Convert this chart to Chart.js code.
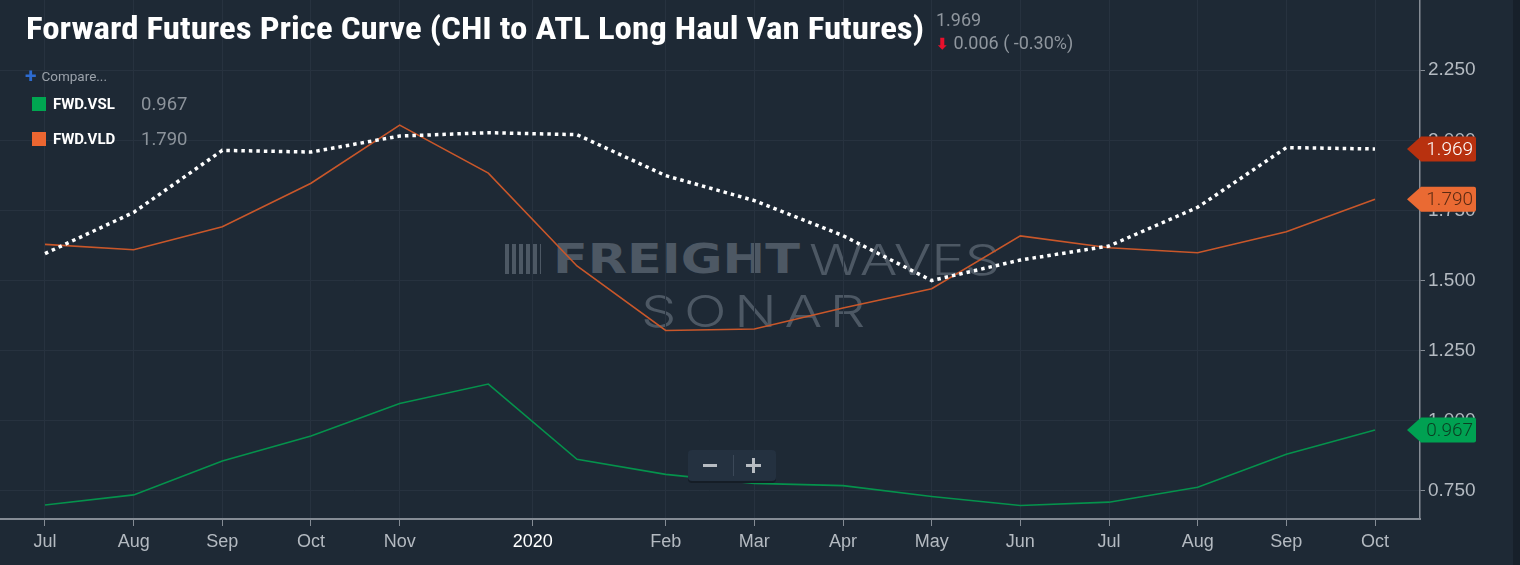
<!DOCTYPE html>
<html>
<head>
<meta charset="utf-8">
<script src="https://cdn.jsdelivr.net/npm/chart.js@4.4.1/dist/chart.umd.min.js"></script>
<style>
  html, body { margin: 0; padding: 0; background: #1e2935; overflow: hidden; }
  #wrap { position: relative; width: 1520px; height: 565px; font-family: Roboto, "Noto Sans", sans-serif; }
  #chart { position: absolute; left: 0; top: 0; z-index: 2; }
  .abs { position: absolute; white-space: nowrap; }
  #title { left: 26px; top: 10px; color: #fff; font: bold 31px "Liberation Sans Narrow", "Roboto Condensed", Roboto, sans-serif; transform-origin: 0 0; z-index: 3; }
  #price { left: 936px; top: 8px; color: #8f969e; font-size: 18px; line-height: 23px; z-index: 3; }
  #price .dn { color: #e8102c; font-weight: bold; font-size: 15px; }
  #cmp { left: 25px; top: 64px; font-size: 13.5px; color: #9aa1a9; z-index: 3; }
  #cmp b { color: #2d6bd0; font-size: 21px; vertical-align: -2px; margin-right: 5px; }
  .leg { left: 32px; z-index: 3; font-size: 15px; }
  .leg i { display: inline-block; width: 14px; height: 14px; vertical-align: -2px; margin-right: 7px; }
  .leg b { color: #fff; display: inline-block; width: 88px; }
  .leg span { color: #8c939b; font-size: 18.5px; vertical-align: -1px; }
  #wm { left: 505px; top: 236px; z-index: 1; color: #4d5864; }
  #wm .fr { font: 900 40px "DejaVu Sans", sans-serif; position: absolute; left: 48px; top: 0; transform-origin: 0 0; }
  #wm .wv { font: 300 42px Inter, "Open Sans", sans-serif; position: absolute; left: 304px; top: -2px; transform-origin: 0 0; }
  #wm .so { font: 300 44px Inter, "Open Sans", sans-serif; position: absolute; left: 136px; top: 48px; transform-origin: 0 0; letter-spacing: 6px; }
  #wm .ic { position: absolute; left: 0; top: 8px; width: 36px; height: 30px;
            background: repeating-linear-gradient(90deg, #4d5864 0 4px, transparent 4px 7px); }
  #zoombox { left: 688px; top: 450px; width: 88px; height: 31px; background: #243140; border-radius: 4px;
             box-shadow: 0 2px 0 #151d26; z-index: 3; }
  #zoombox .m { position: absolute; left: 15px; top: 14px; width: 14px; height: 3px; background: #b7bcc2; }
  #zoombox .d { position: absolute; left: 45px; top: 5px; width: 1px; height: 21px; background: #3b4858; }
  #zoombox .p1 { position: absolute; left: 58px; top: 14px; width: 15px; height: 3px; background: #b7bcc2; }
  #zoombox .p2 { position: absolute; left: 64px; top: 8px; width: 3px; height: 15px; background: #b7bcc2; }
  #strip { left: 1513px; top: 0; width: 7px; height: 565px; background: #17202a; z-index: 3; }
</style>
</head>
<body>
<div id="wrap">
  <div id="wm" class="abs"><span class="ic"></span><span class="fr">FREIGHT</span><span class="wv">WAVES</span><span class="so">SONAR</span></div>
  <canvas id="chart" width="1520" height="565"></canvas>
  <div id="title" class="abs">Forward Futures Price Curve (CHI to ATL Long Haul Van Futures)</div>
  <div id="price" class="abs">1.969<br><span class="dn">&#x2B07;</span> 0.006 ( -0.30%)</div>
  <div id="cmp" class="abs"><b>+</b>Compare...</div>
  <div class="abs leg" style="top:93px"><i style="background:#00a651"></i><b>FWD.VSL</b><span>0.967</span></div>
  <div class="abs leg" style="top:128px"><i style="background:#ec6631"></i><b>FWD.VLD</b><span>1.790</span></div>
  <div id="zoombox" class="abs"><span class="m"></span><span class="d"></span><span class="p1"></span><span class="p2"></span></div>
  <div id="strip" class="abs"></div>
</div>
<script>
// contract months, Jul 2019 .. Oct 2020
const months = ['Jul', 'Aug', 'Sep', 'Oct', 'Nov', 'Dec', 'Jan', 'Feb', 'Mar', 'Apr', 'May', 'Jun', 'Jul', 'Aug', 'Sep', 'Oct'];

// forward curve (dotted white)
const fwdCurve = [1.596, 1.743, 1.964, 1.958, 2.015, 2.027, 2.020, 1.874, 1.785, 1.660, 1.500, 1.573, 1.623, 1.761, 1.974, 1.969];
// FWD.VLD (orange)
const fwdVLD = [1.629, 1.610, 1.692, 1.847, 2.054, 1.883, 1.552, 1.322, 1.327, 1.402, 1.471, 1.659, 1.617, 1.599, 1.674, 1.790];
// FWD.VSL (green)
const fwdVSL = [0.700, 0.736, 0.857, 0.946, 1.062, 1.131, 0.863, 0.809, 0.777, 0.769, 0.730, 0.698, 0.710, 0.763, 0.881, 0.967];

// x axis ticks (month index) and their labels
const xTickPos = [0, 1, 2, 3, 4, 5.5, 7, 8, 9, 10, 11, 12, 13, 14, 15];
const xTickLabels = ['Jul', 'Aug', 'Sep', 'Oct', 'Nov', '2020', 'Feb', 'Mar', 'Apr', 'May', 'Jun', 'Jul', 'Aug', 'Sep', 'Oct'];
// y axis ticks
const yTicks = [0.75, 1.0, 1.25, 1.5, 1.75, 2.0, 2.25];

const toPoints = arr => arr.map((v, i) => ({ x: i, y: v }));

const gridColor = '#27323f';
const axisColor = '#858c95';
const labelColor = '#b4bac1';

// last-value tags on the right axis
const priceTags = {
   id: 'priceTags',
   afterDraw(chart) {
      const ctx = chart.ctx;
      const area = chart.chartArea;
      const y = chart.scales.y;
      chart.data.datasets.forEach(ds => {
         const last = ds.data[ds.data.length - 1].y;
         const py = y.getPixelForValue(last);
         const left = area.right - 13, right = area.right + 56, h = 12.5;
         ctx.save();
         ctx.fillStyle = ds.tagColor;
         ctx.beginPath();
         ctx.moveTo(left, py);
         ctx.lineTo(left + 14, py - h);
         ctx.lineTo(right - 2, py - h);
         ctx.quadraticCurveTo(right, py - h, right, py - h + 2);
         ctx.lineTo(right, py + h - 2);
         ctx.quadraticCurveTo(right, py + h, right - 2, py + h);
         ctx.lineTo(left + 14, py + h);
         ctx.closePath();
         ctx.fill();
         ctx.fillStyle = ds.tagText;
         ctx.font = '300 19px Roboto, sans-serif';
         ctx.textAlign = 'right';
         ctx.textBaseline = 'middle';
         ctx.fillText(last.toFixed(3), right - 3, py + 1);
         ctx.restore();
      });
   }
};

const chart = new Chart(document.getElementById('chart'), {
   type: 'line',
   data: {
      datasets: [{
         label: 'Forward Curve',
         data: toPoints(fwdCurve),
         borderColor: '#ffffff',
         borderWidth: 3.5,
         borderDash: [3.5, 4],
         borderCapStyle: 'butt',
         pointRadius: 0,
         tension: 0,
         tagColor: '#b8310f',
         tagText: '#ffffff'
      }, {
         label: 'FWD.VLD',
         data: toPoints(fwdVLD),
         borderColor: '#c9572a',
         borderWidth: 1.6,
         pointRadius: 0,
         tension: 0,
         tagColor: '#ea6a33',
         tagText: '#5b2a12'
      }, {
         label: 'FWD.VSL',
         data: toPoints(fwdVSL),
         borderColor: '#05924c',
         borderWidth: 1.6,
         pointRadius: 0,
         tension: 0,
         tagColor: '#00a152',
         tagText: '#0b3d22'
      }]
   },
   plugins: [priceTags],
   options: {
      responsive: false,
      animation: false,
      layout: { padding: 0 },
      plugins: { legend: { display: false }, tooltip: { enabled: false } },
      scales: {
         x: {
            type: 'linear',
            min: -0.5075,
            max: 15.5075,
            afterBuildTicks: s => { s.ticks = xTickPos.map(v => ({ value: v })); },
            afterFit: s => { s.height = 46; s.paddingLeft = 0; s.paddingRight = 0; },
            ticks: {
               autoSkip: false,
               maxRotation: 0,
               padding: 5,
               font: { size: 18 },
               color: c => (c.tick && c.tick.value === 5.5) ? '#ffffff' : labelColor,
               callback: (v, i) => xTickLabels[i]
            },
            grid: { color: gridColor, tickColor: axisColor, tickLength: 7 },
            border: { color: axisColor, width: 2 }
         },
         y: {
            position: 'right',
            min: 0.65,
            max: 2.5,
            afterBuildTicks: s => { s.ticks = yTicks.map(v => ({ value: v })); },
            afterFit: s => { s.width = 100; s.paddingTop = 0; s.paddingBottom = 0; },
            ticks: {
               padding: 3,
               font: { size: 19, weight: '300' },
               color: labelColor,
               callback: v => v.toFixed(3)
            },
            grid: { color: gridColor, tickColor: axisColor, tickLength: 5 },
            border: { color: axisColor, width: 1.5 }
         }
      }
   }
});

// fit the title and watermark words to the widths in the source
function fitWidth(el, w) {
   const r = el.getBoundingClientRect().width;
   if (r > 0) el.style.transform = 'scaleX(' + (w / r) + ')';
}
fitWidth(document.getElementById('title'), 898);
fitWidth(document.querySelector('#wm .fr'), 247);
fitWidth(document.querySelector('#wm .wv'), 191);
fitWidth(document.querySelector('#wm .so'), 232);
</script>
</body>
</html>
